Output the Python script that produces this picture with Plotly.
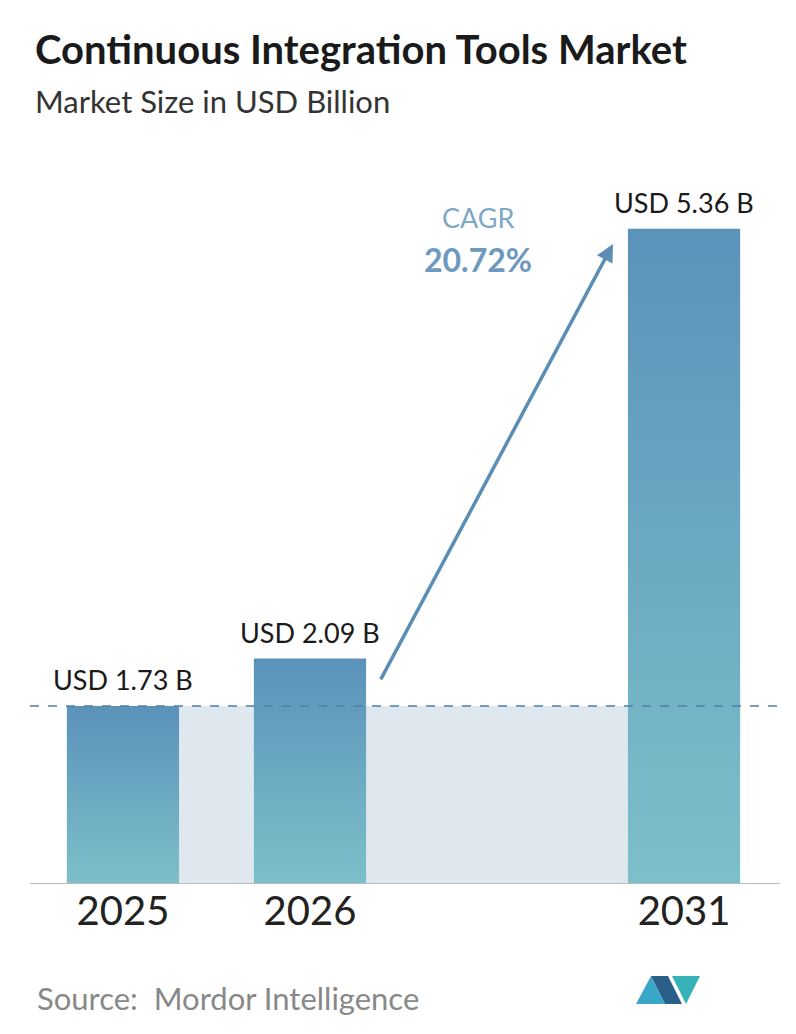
import plotly.graph_objects as go

years = ["2025", "2026", "2031"]
positions = [0, 1, 3]
values = [1.73, 2.09, 5.36]
labels = ["USD 1.73 B", "USD 2.09 B", "USD 5.36 B"]
cagr = "20.72%"

W, H = 796, 1034
base = 0.375
hw = 0.3
F = "Lato"
fig = go.Figure()

fig.add_trace(go.Scatter(x=[positions[0], positions[2], positions[2], positions[0]],
                         y=[base, base, values[0], values[0]], fill="toself",
                         fillcolor="#dfe7ef", line=dict(width=0), mode="lines",
                         hoverinfo="skip", showlegend=False))
for p, v, lab in zip(positions, values, labels):
    fig.add_trace(go.Scatter(x=[p-hw, p+hw, p+hw, p-hw, p-hw], y=[base, base, v, v, base],
                             fill="toself", mode="lines", line=dict(width=0),
                             fillgradient=dict(type="vertical",
                                               colorscale=[[0, "#7cc0c9"], [1, "#5b92ba"]]),
                             hoverinfo="skip", showlegend=False))
    fig.add_annotation(x=p, y=v, text=lab, showarrow=False,
                       yshift=26, font=dict(size=27, color="#1a1a1a", family=F))

fig.add_hline(y=values[0], line=dict(color="#4f7fa8", width=1.5, dash="dash"))

fig.add_annotation(x=2.62, y=5.245, ax=1.374, ay=1.92, axref="x", ayref="y",
                   xref="x", yref="y", showarrow=True, arrowhead=2, arrowsize=1,
                   arrowwidth=3.5, arrowcolor="#5b8db5", text="")
fig.add_annotation(x=1.9, y=5.45, text="CAGR", showarrow=False,
                   font=dict(size=27, color="#7fa8c6", family=F))
fig.add_annotation(x=1.9, y=5.13, text="<b>" + cagr + "</b>", showarrow=False,
                   font=dict(size=32, color="#6d99bf", family=F))

fig.update_xaxes(range=[-0.497, 3.513], tickvals=positions, ticktext=years,
                 tickfont=dict(size=40, color="#222", family=F), showgrid=False,
                 zeroline=False, showline=False, ticks="", fixedrange=True)
fig.update_yaxes(range=[base, 5.80], visible=False, showgrid=False)
fig.add_shape(type="line", xref="paper", yref="y", x0=0, x1=1, y0=base, y1=base,
              line=dict(color="#bbbbbb", width=2))

def px(xp, yp):
    return (xp-30)/750, (883-yp)/713

tx, _ = px(33, 0)
fig.add_annotation(xref="paper", yref="paper", x=tx, y=px(0, 48)[1], xanchor="left",
                   text="<b>Continuous Integration Tools Market</b>", showarrow=False,
                   yanchor="middle", font=dict(size=40, color="#1a1a1a", family=F))
fig.add_annotation(xref="paper", yref="paper", x=tx, y=px(0, 100)[1], xanchor="left",
                   text="Market Size in USD Billion", showarrow=False, yanchor="middle",
                   font=dict(size=31, color="#333", family=F))
fig.add_annotation(xref="paper", yref="paper", x=px(35, 0)[0], y=px(0, 997)[1], xanchor="left",
                   text="Source:  Mordor Intelligence", showarrow=False, yanchor="middle",
                   font=dict(size=31, color="#888", family=F))

pts = [[(636, 1003), (651, 975), (665, 1003)], [(651, 975), (668, 975), (682, 1003), (665, 1003)],
       [(672, 975), (686, 1003), (700, 975)]]
cols = ["#3aa6c8", "#2a5f8a", "#35b3b8"]
for poly, c in zip(pts, cols):
    path = "M " + " L ".join(f"{px(a,b)[0]:.4f},{px(a,b)[1]:.4f}" for a, b in poly) + " Z"
    fig.add_shape(type="path", xref="paper", yref="paper", path=path, fillcolor=c, line_width=0)

fig.update_layout(width=W, height=H, margin=dict(l=22, r=24, t=163, b=158),
                  plot_bgcolor="white", paper_bgcolor="white", showlegend=False)
fig.write_html("out.html")
